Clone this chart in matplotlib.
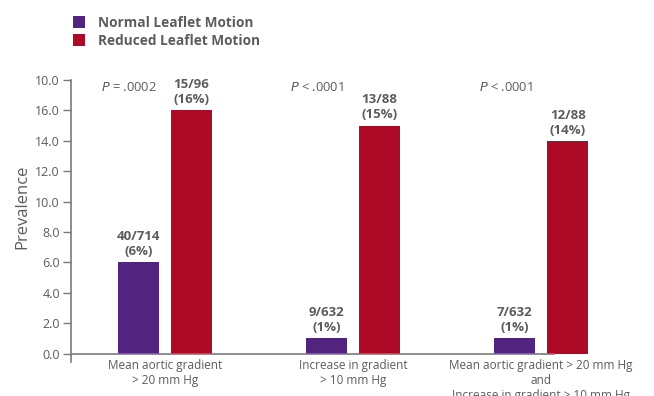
import numpy as np
import matplotlib.pyplot as plt

plt.rcParams['font.family'] = ['Open Sans', 'DejaVu Sans']

groups = ['Mean aortic gradient\n> 20 mm Hg',
          'Increase in gradient\n> 10 mm Hg',
          'Mean aortic gradient > 20 mm Hg\nand\nIncrease in gradient > 10 mm Hg']
normal = [6, 1, 1]
reduced = [16, 15, 14]
normal_labels = ['40/714\n(6%)', '9/632\n(1%)', '7/632\n(1%)']
reduced_labels = ['15/96\n(16%)', '13/88\n(15%)', '12/88\n(14%)']
p_values = ['= .0002', '< .0001', '< .0001']
yticks = [0, 2, 4, 6, 8, 10, 12, 14, 16, 18]
ytick_labels = ['0.0', '2.0', '4.0', '6.0', '8.0', '10.0', '12.0', '14.0', '16.0', '10.0']

purple = '#52237f'
red = '#ac0a27'
gray = '#5c5c5c'
axis_gray = '#7a7a7a'

fig = plt.figure(figsize=(6.54, 3.96), dpi=100)
ax = fig.add_axes([0.1086, 0.0859, 0.8914, 0.7121])

x = np.arange(len(groups))
w = 0.218
off = 0.141
b1 = ax.bar(x - off, normal, w, color=purple, label='Normal Leaflet Motion', zorder=3)
b2 = ax.bar(x + off, reduced, w, color=red, label='Reduced Leaflet Motion', zorder=3)

# count and percentage above each bar
for bars, labels in ((b1, normal_labels), (b2, reduced_labels)):
    for rect, lab in zip(bars, labels):
        ax.annotate(lab, (rect.get_x() + rect.get_width() / 2, rect.get_height()),
                    xytext=(0, 3), textcoords='offset points', ha='center', va='bottom',
                    fontsize=9.5, fontweight='bold', color=gray, linespacing=1.2)

for xi, pv in zip(x, p_values):
    ax.text(xi - 0.19, 17.5, r'$P$ ' + pv, ha='center', va='center', fontsize=9.3, color=gray)

ax.set_xlim(-0.5, 2.6)
ax.set_ylim(-0.55, 18)
ax.set_yticks(yticks)
ax.set_yticklabels(ytick_labels)
ax.set_xticks(x)
ax.set_xticklabels(groups, linespacing=1.0)
ax.tick_params(axis='x', length=0, pad=4, labelsize=8.5, labelcolor=gray)
ax.tick_params(axis='y', length=6, width=1, color=axis_gray, labelsize=9, labelcolor=gray, pad=2)

for s in ['top', 'right']:
    ax.spines[s].set_visible(False)
ax.spines['bottom'].set_position(('data', 0))
ax.spines['bottom'].set_bounds(-0.5, 2.07)
ax.spines['bottom'].set_color(axis_gray)
ax.spines['left'].set_color(axis_gray)
ax.spines['bottom'].set_linewidth(1.2)
ax.spines['left'].set_linewidth(1.2)
ax.spines['bottom'].set_zorder(4)

ax.set_ylabel('Prevalence', fontsize=12, color=gray)
ax.yaxis.set_label_coords(-0.07, 0.55)

fig.legend(handles=[b1, b2], loc='upper left', bbox_to_anchor=(0.112, 0.96),
           frameon=False, handlelength=0.85, handleheight=1.0, handletextpad=1.0,
           labelspacing=0.3, prop={'size': 9.8, 'weight': 'bold'}, labelcolor=gray,
           borderaxespad=0, borderpad=0)

fig.savefig('out.png', dpi=100)
